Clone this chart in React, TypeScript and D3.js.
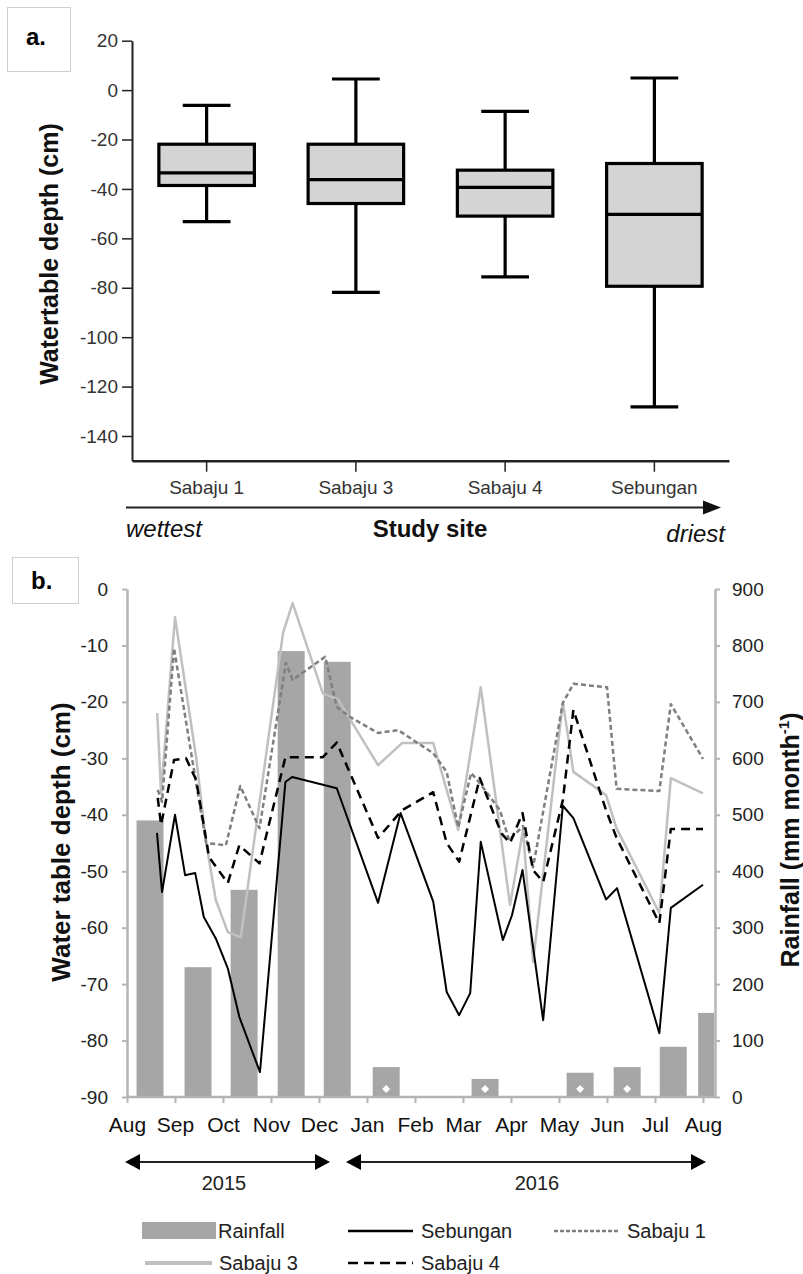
import React, { useEffect, useRef } from 'react'
import * as d3 from 'd3'

// panel a: water table depth box plots per site (cm)
const sites = ['Sabaju 1', 'Sabaju 3', 'Sabaju 4', 'Sebungan']
const whiskerHigh = [-6.2, 4.5, -8.6, 4.9]
const quart3 = [-21.9, -21.9, -32.4, -29.7]
const medians = [-33.5, -36.2, -39.4, -50.3]
const quart1 = [-38.6, -45.9, -51.0, -79.4]
const whiskerLow = [-53.2, -81.9, -75.6, -128.2]
const depthTicksA = [20, 0, -20, -40, -60, -80, -100, -120, -140]

// panel b: monthly axis, Aug 2015 .. Aug 2016
const months = ['Aug', 'Sep', 'Oct', 'Nov', 'Dec', 'Jan', 'Feb', 'Mar', 'Apr', 'May', 'Jun', 'Jul', 'Aug']
const rainfall = [490, 230, 367, 790, 771, 53, 0, 32, 0, 43, 53, 89, 149] // mm/month
const rainDate = [0.48, 1.48, 2.44, 3.42, 4.38, 5.4, 6.4, 7.46, 8.4, 9.44, 10.42, 11.38, 12.18] // months since Aug 1
const rainMarked = ['Jan', 'Mar', 'May', 'Jun']
const depthTicksB = [0, -10, -20, -30, -40, -50, -60, -70, -80, -90]
const rainTicks = [0, 100, 200, 300, 400, 500, 600, 700, 800, 900]

// water table series: [months since Aug 1 2015, depth cm]
const sebunganT = [0.625, 0.73, 1.0, 1.21, 1.42, 1.6, 1.85, 2.1, 2.34, 2.77, 3.3, 3.44, 4.37, 5.23, 5.7, 6.38, 6.66, 6.92, 7.15, 7.37, 7.83, 8.02, 8.24, 8.67, 9.08, 9.3, 9.98, 10.21, 11.09, 11.33, 12.0]
const sebunganD = [-43.2, -53.7, -40.0, -50.7, -50.3, -58.1, -61.9, -67.2, -75.8, -85.6, -34.2, -33.3, -35.3, -55.6, -39.7, -55.4, -71.4, -75.5, -71.6, -44.8, -62.2, -57.8, -49.8, -76.4, -38.4, -40.6, -55.0, -53.0, -78.7, -56.5, -52.4]
const sabaju1T = [0.64, 0.73, 0.98, 1.37, 1.65, 2.06, 2.36, 2.76, 3.31, 3.45, 4.13, 4.37, 4.65, 5.23, 5.65, 6.38, 6.66, 6.9, 7.17, 7.35, 7.77, 7.96, 8.25, 8.46, 9.08, 9.3, 10.0, 10.2, 11.09, 11.33, 12.0]
const sabaju1D = [-35.6, -37.7, -10.5, -30.8, -45.0, -45.4, -34.9, -42.4, -13.1, -16.1, -12.0, -20.9, -22.7, -25.5, -25.0, -29.1, -32.4, -42.2, -32.6, -34.4, -39.2, -44.5, -42.0, -49.3, -20.2, -16.8, -17.4, -35.4, -35.8, -20.4, -30.1]
const sabaju3T = [0.63, 0.71, 1.0, 1.44, 1.65, 1.85, 2.1, 2.37, 3.25, 3.45, 4.08, 4.4, 5.23, 5.73, 6.38, 6.9, 7.37, 7.98, 8.25, 8.46, 9.08, 9.3, 9.98, 10.2, 11.09, 11.33, 12.0]
const sabaju3D = [-22.0, -36.2, -5.0, -29.8, -45.0, -55.1, -60.8, -61.7, -7.8, -2.5, -18.5, -19.6, -31.2, -27.3, -27.3, -42.7, -17.4, -56.0, -42.7, -66.1, -20.0, -32.4, -36.5, -42.4, -57.4, -33.5, -36.2]
const sabaju4T = [0.64, 0.71, 0.98, 1.23, 1.44, 1.71, 2.1, 2.34, 2.76, 3.3, 4.08, 4.37, 5.23, 5.73, 6.38, 6.66, 6.92, 7.35, 7.8, 7.98, 8.24, 8.46, 8.67, 9.08, 9.3, 9.98, 10.2, 11.09, 11.33, 12.0]
const sabaju4D = [-37.0, -41.8, -30.3, -30.0, -33.8, -47.5, -52.1, -45.4, -48.6, -29.8, -29.8, -27.2, -44.1, -39.2, -36.0, -45.0, -48.3, -33.5, -43.3, -45.0, -39.7, -49.8, -51.9, -37.4, -21.4, -39.2, -44.1, -59.2, -42.5, -42.5]

const FONT = 'Liberation Sans, Arial, sans-serif'
const plain = (d: any) => String(d) // hyphen minus like the original, not U+2212

const App = () => {
    const svgRef = useRef<SVGSVGElement>(null)

    useEffect(() => {
        const svg = d3.select(svgRef.current)
        svg.selectAll('*').remove()
        svg.style('font-family', FONT)

        const defs = svg.append('defs')
        defs.append('clipPath').attr('id', 'plotB')
            .append('rect').attr('x', 127).attr('y', 560).attr('width', 587).attr('height', 540)

        // ---------- panel a ----------
        const gA = svg.append('g')
        gA.append('rect').attr('x', 7.5).attr('y', 7.5).attr('width', 63).attr('height', 64)
            .attr('fill', 'white').attr('stroke', '#cfcfcf')
        gA.append('text').attr('x', 26).attr('y', 45).attr('font-size', 24).attr('font-weight', 'bold').text('a.')

        const yA = d3.scaleLinear().domain([-150, 20]).range([460.7, 40.7])
        const xA = d3.scaleBand().domain(sites).range([132, 729])

        const axisLeftA = gA.append('g').attr('transform', 'translate(132,0)')
            .call(d3.axisLeft(yA).tickValues(depthTicksA).tickFormat(plain).tickSize(10).tickPadding(4).tickSizeOuter(0))
        axisLeftA.select('.domain').attr('stroke', '#222').attr('stroke-width', 2)
        axisLeftA.selectAll('.tick line').attr('stroke', '#222').attr('stroke-width', 1.5)
        axisLeftA.selectAll('.tick text').attr('font-size', 19).attr('font-family', FONT).attr('fill', '#333')

        const axisBottomA = gA.append('g').attr('transform', `translate(0,${yA(-150)})`)
            .call(d3.axisBottom(xA).tickSize(11).tickPadding(9).tickSizeOuter(0))
        axisBottomA.select('.domain').attr('stroke', '#222').attr('stroke-width', 2.5)
        axisBottomA.selectAll('.tick line').attr('stroke', '#222').attr('stroke-width', 1.5)
        axisBottomA.selectAll('.tick text').attr('font-size', 19).attr('font-family', FONT).attr('fill', '#333')

        const bw = xA.bandwidth() * 0.64
        const cw = xA.bandwidth() * 0.32
        sites.forEach((s, i) => {
            const cx = xA(s)! + xA.bandwidth() / 2
            const g = gA.append('g').attr('stroke', '#000').attr('stroke-width', 3.2)
            g.append('line').attr('x1', cx).attr('x2', cx).attr('y1', yA(whiskerHigh[i])).attr('y2', yA(quart3[i]))
            g.append('line').attr('x1', cx).attr('x2', cx).attr('y1', yA(quart1[i])).attr('y2', yA(whiskerLow[i]))
            g.append('line').attr('x1', cx - cw / 2).attr('x2', cx + cw / 2).attr('y1', yA(whiskerHigh[i])).attr('y2', yA(whiskerHigh[i]))
            g.append('line').attr('x1', cx - cw / 2).attr('x2', cx + cw / 2).attr('y1', yA(whiskerLow[i])).attr('y2', yA(whiskerLow[i]))
            g.append('rect').attr('x', cx - bw / 2).attr('y', yA(quart3[i]))
                .attr('width', bw).attr('height', yA(quart1[i]) - yA(quart3[i])).attr('fill', '#d4d4d4')
            g.append('line').attr('x1', cx - bw / 2).attr('x2', cx + bw / 2).attr('y1', yA(medians[i])).attr('y2', yA(medians[i]))
        })

        gA.append('text').attr('transform', 'translate(58,254) rotate(-90)').attr('text-anchor', 'middle')
            .attr('font-size', 25).attr('font-weight', 'bold').attr('fill', '#111').text('Watertable depth (cm)')

        // site gradient arrow
        gA.append('line').attr('x1', 126).attr('x2', 706).attr('y1', 507.5).attr('y2', 507.5)
            .attr('stroke', '#222').attr('stroke-width', 2)
        gA.append('path').attr('d', 'M703,500.5 L721,507.5 L703,514.5 Z').attr('fill', '#111')
        gA.append('text').attr('x', 126).attr('y', 537).attr('font-size', 24).attr('font-style', 'italic').attr('fill', '#111').text('wettest')
        gA.append('text').attr('x', 430).attr('y', 537).attr('text-anchor', 'middle').attr('font-size', 24)
            .attr('font-weight', 'bold').attr('fill', '#111').text('Study site')
        gA.append('text').attr('x', 725).attr('y', 542).attr('text-anchor', 'end').attr('font-size', 24)
            .attr('font-style', 'italic').attr('fill', '#111').text('driest')

        // ---------- panel b ----------
        const gB = svg.append('g')
        gB.append('rect').attr('x', 12.5).attr('y', 557.5).attr('width', 66).attr('height', 46)
            .attr('fill', 'white').attr('stroke', '#cfcfcf')
        gB.append('text').attr('x', 31).attr('y', 589).attr('font-size', 24).attr('font-weight', 'bold').text('b.')

        const xB = d3.scaleLinear().domain([0, 12]).range([127, 703])
        const yD = d3.scaleLinear().domain([-90, 0]).range([1097, 589])
        const yR = d3.scaleLinear().domain([0, 900]).range([1097, 589])
        const axisGrey = '#b4b4b4'

        // rainfall bars
        const barW = (xB(1) - xB(0)) * 0.5625
        const plot = gB.append('g').attr('clip-path', 'url(#plotB)')
        plot.selectAll('.rain').data(rainfall).enter().append('rect')
            .attr('class', 'rain')
            .attr('x', (d, i) => xB(rainDate[i]) - barW / 2)
            .attr('y', d => yR(d))
            .attr('width', barW)
            .attr('height', d => yR(0) - yR(d))
            .attr('fill', '#a6a6a6')
        rainMarked.forEach(m => {
            const i = months.indexOf(m)
            const cx = xB(rainDate[i])
            const cy = yR(14)
            plot.append('path').attr('d', `M${cx},${cy - 4} L${cx + 4},${cy} L${cx},${cy + 4} L${cx - 4},${cy} Z`).attr('fill', 'white')
        })

        const line = d3.line<[number, number]>().x(d => xB(d[0])).y(d => yD(d[1]))
        const series = [
            { t: sabaju3T, d: sabaju3D, color: '#c0c0c0', dash: null, w: 2.5 },
            { t: sabaju1T, d: sabaju1D, color: '#7f7f7f', dash: '5,3', w: 2.5 },
            { t: sabaju4T, d: sabaju4D, color: '#000', dash: '9,6', w: 2.5 },
            { t: sebunganT, d: sebunganD, color: '#000', dash: null, w: 2 },
        ]
        series.forEach(s => {
            plot.append('path')
                .datum(s.t.map((t, i) => [t, s.d[i]] as [number, number]))
                .attr('d', line)
                .attr('fill', 'none')
                .attr('stroke', s.color)
                .attr('stroke-width', s.w)
                .attr('stroke-linejoin', 'round')
                .attr('stroke-dasharray', s.dash)
        })

        // left axis
        const axL = gB.append('g').attr('transform', 'translate(127,0)')
            .call(d3.axisLeft(yD).tickValues(depthTicksB).tickFormat(plain).tickSize(5).tickPadding(14).tickSizeOuter(0))
        axL.select('.domain').attr('stroke', axisGrey).attr('stroke-width', 2.5)
        axL.selectAll('.tick line').attr('stroke', axisGrey).attr('stroke-width', 2)
        axL.selectAll('.tick text').attr('font-size', 19).attr('font-family', FONT).attr('fill', '#222')

        // right axis
        const axR = gB.append('g').attr('transform', 'translate(715,0)')
            .call(d3.axisRight(yR).tickValues(rainTicks).tickFormat(plain).tickSize(5).tickPadding(12).tickSizeOuter(0))
        axR.select('.domain').attr('stroke', axisGrey).attr('stroke-width', 2.5)
        axR.selectAll('.tick line').attr('stroke', axisGrey).attr('stroke-width', 2)
        axR.selectAll('.tick text').attr('font-size', 19).attr('font-family', FONT).attr('fill', '#222')

        // bottom month axis
        const axB = gB.append('g').attr('transform', 'translate(0,1097)')
            .call(d3.axisBottom(xB).tickValues(d3.range(months.length)).tickFormat((d: any) => months[d])
                .tickSize(6).tickPadding(14).tickSizeOuter(0))
        axB.select('.domain').remove()
        axB.append('line').attr('x1', 127).attr('x2', 715).attr('stroke', axisGrey).attr('stroke-width', 2.5)
        axB.selectAll('.tick line').attr('stroke', axisGrey).attr('stroke-width', 2)
        axB.selectAll('.tick text').attr('font-size', 21).attr('font-family', FONT).attr('fill', '#111')

        gB.append('text').attr('transform', 'translate(70,842) rotate(-90)').attr('text-anchor', 'middle')
            .attr('font-size', 26).attr('font-weight', 'bold').attr('fill', '#111').text('Water table depth (cm)')
        const rt = gB.append('text').attr('transform', 'translate(799,840) rotate(-90)').attr('text-anchor', 'middle')
            .attr('font-size', 25).attr('font-weight', 'bold').attr('fill', '#111')
        rt.append('tspan').text('Rainfall (mm month')
        rt.append('tspan').attr('font-size', 15).attr('dy', -10).text('-1')
        rt.append('tspan').attr('dy', 10).text(')')

        // year arrows
        const yearArrow = (x1: number, x2: number, label: string, lx: number) => {
            const y = 1162
            gB.append('line').attr('x1', x1 + 12).attr('x2', x2 - 12).attr('y1', y).attr('y2', y)
                .attr('stroke', '#222').attr('stroke-width', 2)
            gB.append('path').attr('d', `M${x1},${y} L${x1 + 15},${y - 8} L${x1 + 15},${y + 8} Z`).attr('fill', '#000')
            gB.append('path').attr('d', `M${x2},${y} L${x2 - 15},${y - 8} L${x2 - 15},${y + 8} Z`).attr('fill', '#000')
            gB.append('text').attr('x', lx).attr('y', 1190).attr('text-anchor', 'middle')
                .attr('font-size', 20).attr('fill', '#222').text(label)
        }
        yearArrow(125, 330, '2015', 224)
        yearArrow(346, 706, '2016', 537)

        // legend
        const lg = gB.append('g').attr('font-size', 20).attr('fill', '#222')
        lg.append('rect').attr('x', 142).attr('y', 1222).attr('width', 74).attr('height', 17).attr('fill', '#a6a6a6')
        lg.append('text').attr('x', 218).attr('y', 1238).text('Rainfall')
        lg.append('line').attr('x1', 348).attr('x2', 413).attr('y1', 1231).attr('y2', 1231).attr('stroke', '#000').attr('stroke-width', 2.5)
        lg.append('text').attr('x', 421).attr('y', 1238).text('Sebungan')
        lg.append('line').attr('x1', 554).attr('x2', 620).attr('y1', 1231).attr('y2', 1231).attr('stroke', '#7f7f7f')
            .attr('stroke-width', 2.5).attr('stroke-dasharray', '4,2')
        lg.append('text').attr('x', 627).attr('y', 1238).text('Sabaju 1')
        lg.append('line').attr('x1', 145).attr('x2', 212).attr('y1', 1263).attr('y2', 1263).attr('stroke', '#c0c0c0').attr('stroke-width', 4)
        lg.append('text').attr('x', 219).attr('y', 1270).text('Sabaju 3')
        lg.append('line').attr('x1', 348).attr('x2', 413).attr('y1', 1263).attr('y2', 1263).attr('stroke', '#000')
            .attr('stroke-width', 2.5).attr('stroke-dasharray', '10,6')
        lg.append('text').attr('x', 421).attr('y', 1270).text('Sabaju 4')
    }, [])

    return (
        <svg ref={svgRef} width={803} height={1274}
            style={{ position: 'absolute', left: 0, top: 0, background: 'white' }} />
    )
}

export default App
